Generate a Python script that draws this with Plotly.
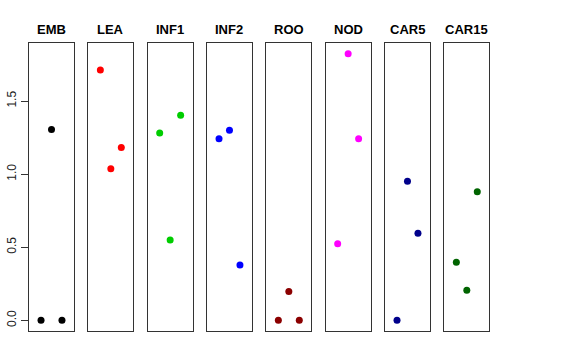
import plotly.graph_objects as go

tissues = ["EMB", "LEA", "INF1", "INF2", "ROO", "NOD", "CAR5", "CAR15"]
colors = ["#000000", "#FF0000", "#00CD00", "#0000FF", "#8B0000", "#FF00FF", "#00008B", "#006400"]
x_pos = [1, 2, 3]
values = {
    "EMB": [0.0, 1.306, 0.0],
    "LEA": [1.712, 1.037, 1.183],
    "INF1": [1.281, 0.549, 1.402],
    "INF2": [1.242, 1.300, 0.378],
    "ROO": [0.0, 0.198, 0.0],
    "NOD": [0.524, 1.824, 1.242],
    "CAR5": [0.0, 0.951, 0.595],
    "CAR15": [0.397, 0.205, 0.880],
}
y_ticks = [0.0, 0.5, 1.0, 1.5]

W, H = 576, 360
left0, step, pw = 29.0, 59.33, 45.0
top_px, bot_px = 43.0, 331.0
title_px = 29.0

fig = go.Figure()
layout = dict(width=W, height=H, margin=dict(l=0, r=0, t=0, b=0, autoexpand=False),
              paper_bgcolor="white", plot_bgcolor="white", showlegend=False,
              font=dict(family="Liberation Sans, Arial, sans-serif", color="black"))
annotations = []
for i, t in enumerate(tissues):
    sfx = "" if i == 0 else str(i + 1)
    x0 = (left0 + i * step) / W
    x1 = (left0 + i * step + pw) / W
    fig.add_trace(go.Scatter(x=x_pos, y=values[t], mode="markers",
                             marker=dict(color=colors[i], size=7, line=dict(width=0)),
                             xaxis="x" + sfx, yaxis="y" + sfx, hoverinfo="skip"))
    layout["xaxis" + sfx] = dict(domain=[x0, x1], range=[-0.15, 4.15], showgrid=False,
                                 zeroline=False, showticklabels=False, ticks="",
                                 showline=True, linecolor="#333333", linewidth=1, mirror=True,
                                 anchor="y" + sfx, automargin=False)
    yax = dict(domain=[1 - bot_px / H, 1 - top_px / H], range=[-0.073, 1.897], showgrid=False,
               zeroline=False, showline=True, linecolor="#333333", linewidth=1, mirror=True,
               anchor="x" + sfx, automargin=False)
    if i == 0:
        yax.update(tickmode="array", tickvals=y_ticks, ticktext=[f"{v:.1f}" for v in y_ticks],
                   ticks="outside", ticklen=7, tickcolor="#333333", tickangle=-90,
                   tickfont=dict(size=12, color="#222222"), showticklabels=True)
    else:
        yax.update(showticklabels=False, ticks="")
    layout["yaxis" + sfx] = yax
    annotations.append(dict(text=f"<b>{t}</b>", x=(x0 + x1) / 2, y=1 - title_px / H,
                            xref="paper", yref="paper", showarrow=False,
                            xanchor="center", yanchor="middle",
                            font=dict(size=13, color="black")))
layout["annotations"] = annotations
fig.update_layout(**layout)
fig.write_html("out.html", config={"displayModeBar": False},
               post_script="document.body.style.margin='0';document.body.style.padding='0';")
